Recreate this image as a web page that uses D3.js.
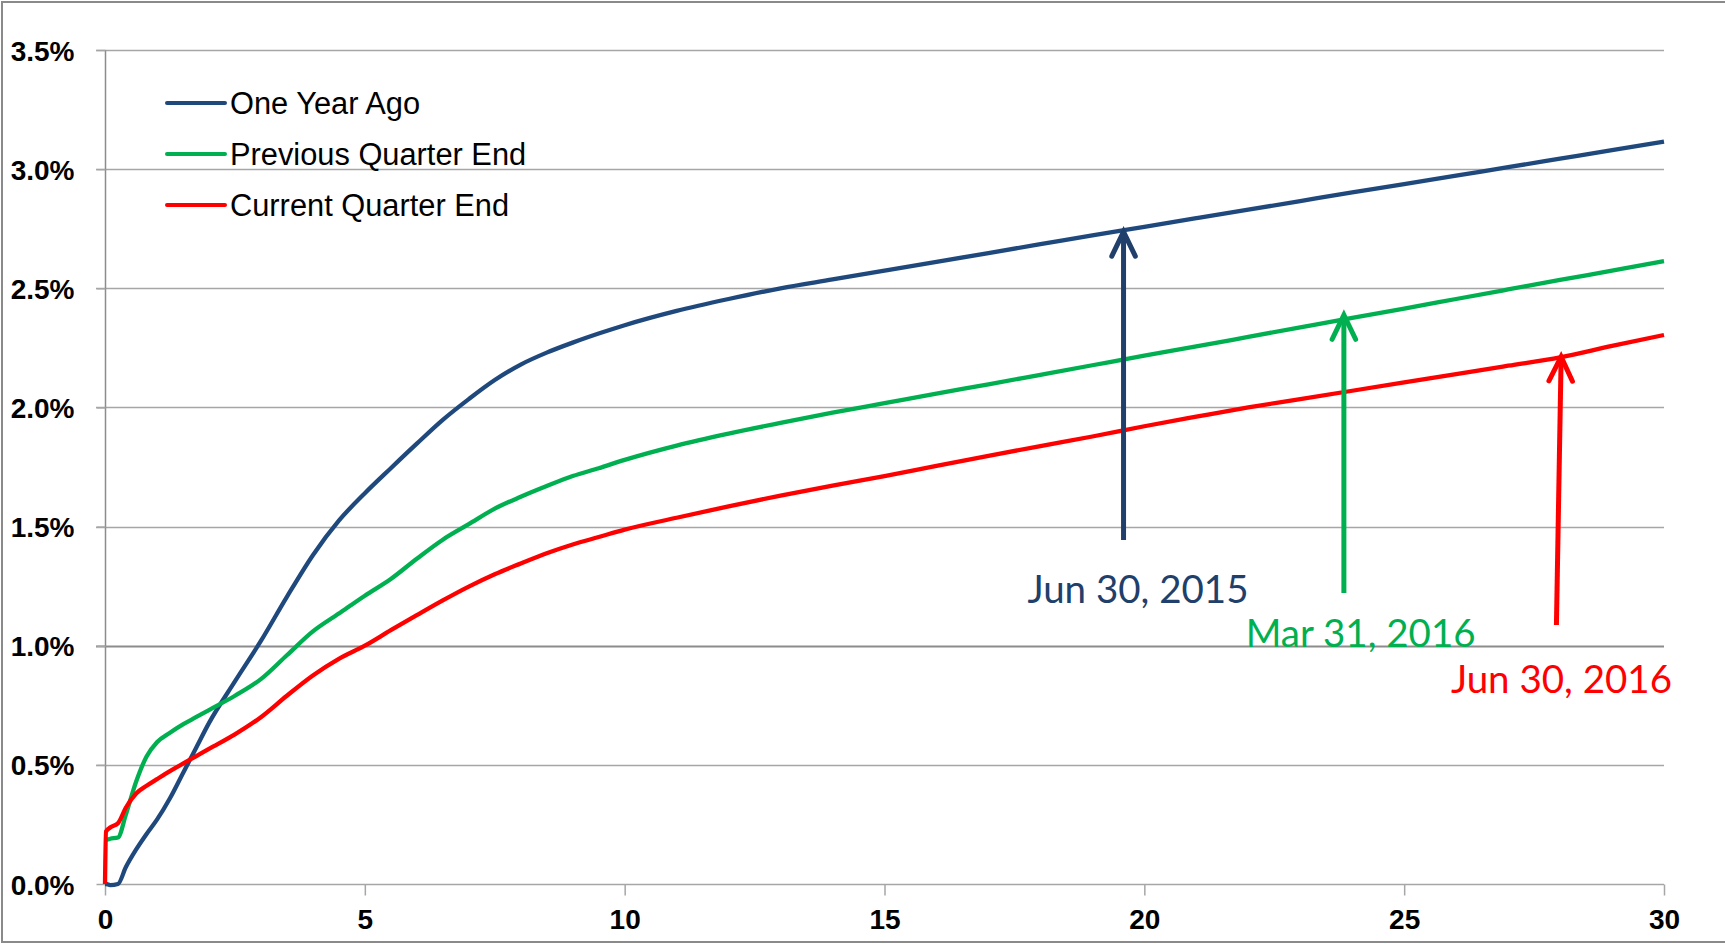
<!DOCTYPE html>
<html>
<head>
<meta charset="utf-8">
<script src="https://cdn.jsdelivr.net/npm/d3@7"></script>
<style>
  html, body { margin: 0; padding: 0; background: #fff; }
  svg { display: block; }
</style>
</head>
<body>
<svg id="chart" width="1725" height="944"></svg>
<script>
// ---- data ----
const tenors = [0, 0.02, 0.1, 0.25, 0.4, 0.6, 0.8, 1.0, 1.25, 1.5, 1.75, 2, 2.5, 3, 3.5, 4, 4.5, 5, 5.5, 6, 6.5, 7, 7.5, 8, 8.5, 9, 9.5, 10, 11, 12, 13, 14, 15, 16, 17, 18, 19, 20, 21, 22, 23, 24, 25, 26, 27, 28, 29, 30];
const oneYearAgo = [0, 0, -0.005, 0.0, 0.07, 0.145, 0.21, 0.27, 0.36, 0.465, 0.57, 0.675, 0.85, 1.02, 1.205, 1.38, 1.525, 1.64, 1.745, 1.848, 1.948, 2.035, 2.115, 2.18, 2.23, 2.272, 2.31, 2.345, 2.405, 2.455, 2.50, 2.537, 2.574, 2.611, 2.648, 2.685, 2.722, 2.758, 2.794, 2.830, 2.866, 2.902, 2.937, 2.973, 3.008, 3.044, 3.08, 3.115];
const previousQuarterEnd = [0.185, 0.185, 0.19, 0.195, 0.29, 0.43, 0.535, 0.595, 0.635, 0.67, 0.70, 0.73, 0.79, 0.86, 0.96, 1.06, 1.135, 1.21, 1.28, 1.365, 1.445, 1.51, 1.575, 1.625, 1.67, 1.712, 1.745, 1.78, 1.84, 1.89, 1.935, 1.978, 2.018, 2.058, 2.097, 2.137, 2.177, 2.217, 2.256, 2.296, 2.336, 2.376, 2.415, 2.455, 2.495, 2.535, 2.574, 2.614];
const currentQuarterEnd = [0, 0.22, 0.237, 0.255, 0.32, 0.38, 0.412, 0.44, 0.474, 0.505, 0.536, 0.567, 0.628, 0.70, 0.79, 0.875, 0.945, 1.0, 1.065, 1.128, 1.19, 1.248, 1.30, 1.345, 1.388, 1.425, 1.456, 1.487, 1.537, 1.585, 1.63, 1.672, 1.712, 1.755, 1.797, 1.838, 1.878, 1.921, 1.961, 2.0, 2.035, 2.07, 2.105, 2.14, 2.175, 2.21, 2.258, 2.304];

const seriesNames = ["One Year Ago", "Previous Quarter End", "Current Quarter End"];
const seriesColors = ["#1F497D", "#00B050", "#FF0000"];
const xTicks = [0, 5, 10, 15, 20, 25, 30];
const yTicks = [0, 0.5, 1.0, 1.5, 2.0, 2.5, 3.0, 3.5];

// annotations: arrow (base -> tip) and label in data units
const annotLabels = ["Jun 30, 2015", "Mar 31, 2016", "Jun 30, 2016"];
const annotColors = ["#213F6B", "#00B050", "#FF0000"];
const arrowBase = [[19.6, 1.444], [23.84, 1.221], [27.93, 1.087]];
const arrowTip = [[19.6, 2.737], [23.84, 2.388], [28.02, 2.213]];
const labelPos = [[17.75, 1.179], [21.95, 0.995], [25.9, 0.80]];

// ---- layout ----
const svg = d3.select("#chart");
const W = 1725, H = 944;
const x = d3.scaleLinear().domain([0, 30]).range([105, 1664]);
const y = d3.scaleLinear().domain([0, 3.5]).range([884, 50]);

// outer border
svg.append("rect").attr("x", 2).attr("y", 2).attr("width", W + 2).attr("height", H - 4)
  .attr("fill", "#fff").attr("stroke", "#8a8a8a").attr("stroke-width", 2);

// gridlines
const grid = svg.append("g");
grid.selectAll("line").data(yTicks.filter(d => d > 0)).join("line")
  .attr("x1", 96).attr("x2", x(30))
  .attr("y1", d => Math.round(y(d)) + 0.5).attr("y2", d => Math.round(y(d)) + 0.5)
  .attr("stroke", d => d === 1.0 ? "#8c8c8c" : "#a6a6a6")
  .attr("stroke-width", d => d === 1.0 ? 2 : 1.5);

// y axis
const yAxis = d3.axisLeft(y).tickValues(yTicks).tickSize(9).tickPadding(22)
  .tickFormat(d => d3.format(".1f")(d) + "%");
const gy = svg.append("g").attr("transform", "translate(105.5,0)").call(yAxis);
gy.select(".domain").attr("stroke", "#8c8c8c").attr("stroke-width", 1.5)
  .attr("d", `M0,${y(3.5)}V${y(0)}`);
gy.selectAll(".tick line").attr("stroke", "#a6a6a6").attr("stroke-width", 1.5);
gy.selectAll(".tick text")
  .attr("font-family", "'Liberation Sans', Arial, sans-serif")
  .attr("font-weight", "bold").attr("font-size", 28).attr("fill", "#000")
  .attr("dy", "0.36em");

// x axis
const xAxis = d3.axisBottom(x).tickValues(xTicks).tickSize(11).tickPadding(14).tickFormat(d3.format("d"));
const gx = svg.append("g").attr("transform", "translate(0,884.5)").call(xAxis);
gx.select(".domain").attr("stroke", "#a6a6a6").attr("stroke-width", 1.5)
  .attr("d", `M${x(0)},0H${x(30)}`);
gx.selectAll(".tick line").attr("stroke", "#a6a6a6").attr("stroke-width", 1.5);
gx.selectAll(".tick text")
  .attr("font-family", "'Liberation Sans', Arial, sans-serif")
  .attr("font-weight", "bold").attr("font-size", 28).attr("fill", "#000");

// series lines
const seriesData = [oneYearAgo, previousQuarterEnd, currentQuarterEnd];
const line = d3.line().x(d => x(d[0])).y(d => y(d[1])).curve(d3.curveMonotoneX);
seriesData.forEach((vals, i) => {
  const pts = tenors.map((t, j) => [t, vals[j]]);
  svg.append("path").datum(pts)
    .attr("fill", "none").attr("stroke", seriesColors[i])
    .attr("stroke-width", 4.3).attr("stroke-linejoin", "round")
    .attr("d", line);
});

// legend
const legend = svg.append("g");
seriesNames.forEach((name, i) => {
  const ly = 103 + i * 51;
  legend.append("line").attr("x1", 167).attr("x2", 225).attr("y1", ly).attr("y2", ly)
    .attr("stroke", seriesColors[i]).attr("stroke-width", 4).attr("stroke-linecap", "round");
  legend.append("text").attr("x", 230).attr("y", ly + 10.5)
    .attr("font-family", "'Liberation Sans', Arial, sans-serif")
    .attr("font-size", 30.8).attr("fill", "#000").text(name);
});

// annotations
annotLabels.forEach((lab, i) => {
  const g = svg.append("g");
  const bx = x(arrowBase[i][0]), by = y(arrowBase[i][1]);
  const tx = x(arrowTip[i][0]), ty = y(arrowTip[i][1]);
  g.append("line").attr("x1", bx).attr("y1", by).attr("x2", tx).attr("y2", ty + 2)
    .attr("stroke", annotColors[i]).attr("stroke-width", 5);
  const ang = Math.atan2(ty - by, tx - bx);
  const hl = 27, ha = 0.45;
  const p1 = [tx - hl * Math.cos(ang - ha), ty - hl * Math.sin(ang - ha)];
  const p2 = [tx - hl * Math.cos(ang + ha), ty - hl * Math.sin(ang + ha)];
  g.append("path").attr("d", `M${p1[0]},${p1[1]}L${tx},${ty}L${p2[0]},${p2[1]}`)
    .attr("fill", "none").attr("stroke", annotColors[i]).attr("stroke-width", 5)
    .attr("stroke-linecap", "round").attr("stroke-linejoin", "miter");
  g.append("text").attr("x", x(labelPos[i][0])).attr("y", y(labelPos[i][1]))
    .attr("font-family", "Lato, 'Open Sans', sans-serif")
    .attr("font-size", 38.5).attr("fill", annotColors[i]).text(lab);
});
</script>
</body>
</html>
